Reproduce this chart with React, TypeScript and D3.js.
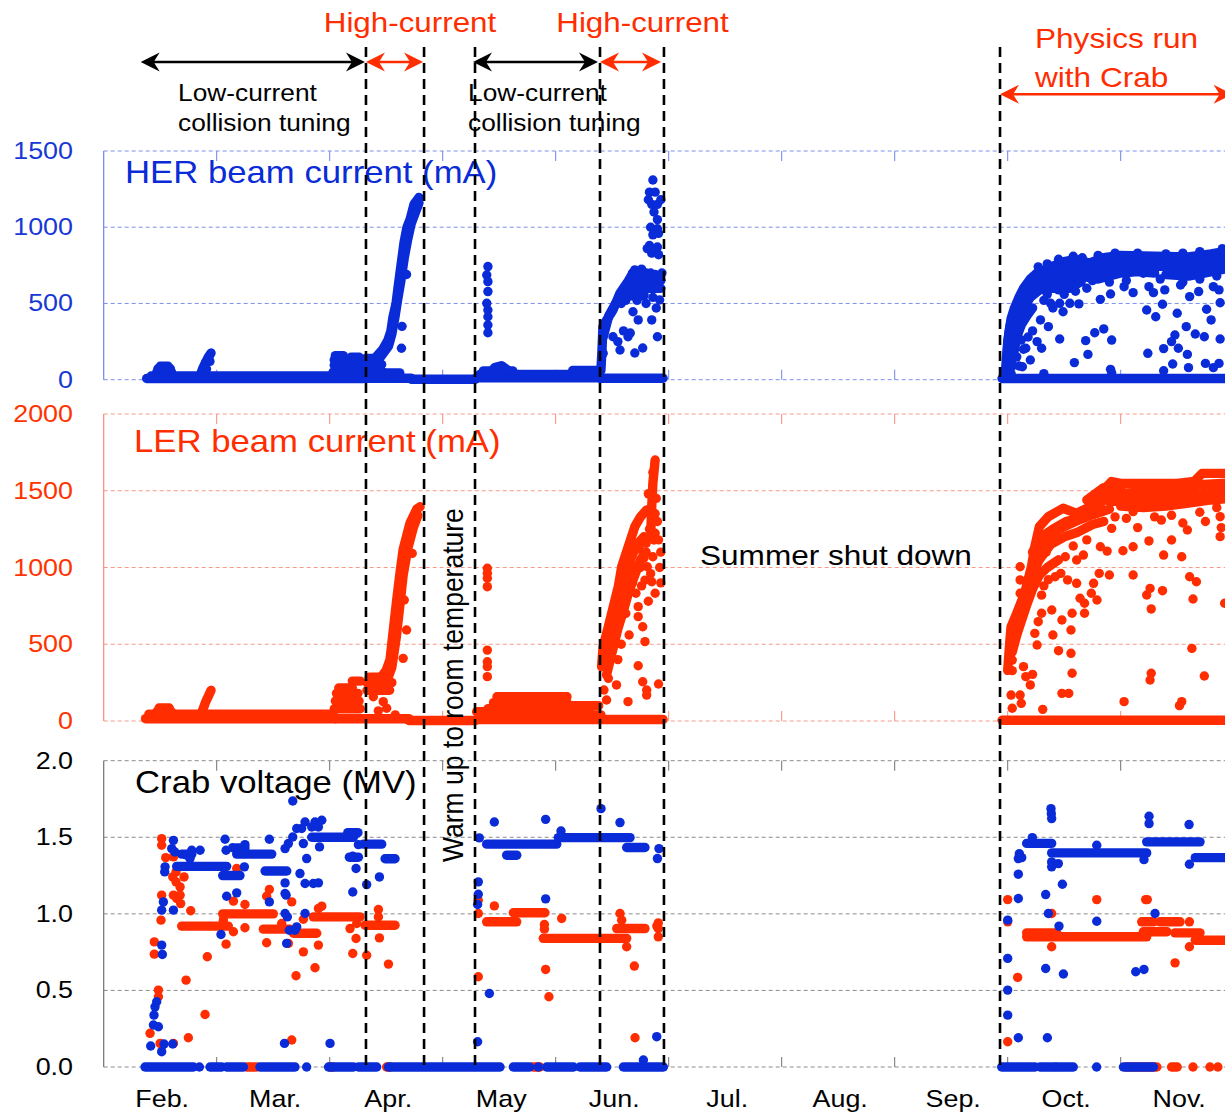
import React from "react";
import * as d3 from "d3";

type P = [number, number];
type Run = [number, number, number];

// x values are in months: 0 = start of Feb., 1 = start of Mar., ...
const monthLabels = ["Feb.", "Mar.", "Apr.", "May", "Jun.", "Jul.", "Aug.", "Sep.", "Oct.", "Nov."];
const herTicks = [0, 500, 1000, 1500];
const lerTicks = [0, 500, 1000, 1500, 2000];
const crabTicks = [0, 0.5, 1.0, 1.5, 2.0];
const phaseLines = [2.321, 2.835, 3.286, 4.392, 4.958, 7.932];

// ---------- HER beam current (mA) ----------
const herRuns: Run[] = [
  [0.38, 2.30, 8], [0.42, 2.27, 24], [0.47, 0.60, 50], [0.48, 0.59, 72], [0.50, 0.57, 88],
  [2.03, 2.29, 50], [2.04, 2.28, 95], [2.04, 2.27, 130], [2.05, 2.12, 158], [2.19, 2.26, 148],
  [2.30, 2.72, 10], [2.32, 2.62, 45], [2.32, 2.46, 100], [2.32, 2.44, 140],
  [2.72, 3.29, 3], [3.30, 4.38, 12], [3.33, 4.36, 35], [3.36, 3.62, 58], [4.15, 4.38, 60],
  [4.39, 4.95, 10], [4.68, 4.80, 700], [4.66, 4.93, 650], [4.64, 4.93, 600], [4.62, 4.78, 550],
  [7.95, 9.95, 8],
];
const herStreaks: P[][] = [
  [[0.85, 20], [0.88, 80], [0.92, 140], [0.95, 175]],
  [[2.40, 140], [2.47, 200], [2.516, 260], [2.542, 320], [2.56, 411], [2.587, 500], [2.604, 600], [2.622, 700], [2.64, 800], [2.658, 900], [2.684, 1000], [2.711, 1050], [2.746, 1150], [2.79, 1195]],
  [[2.45, 150], [2.52, 220], [2.55, 300], [2.575, 400], [2.60, 520], [2.63, 650], [2.66, 800], [2.69, 920], [2.72, 1020], [2.76, 1100], [2.79, 1160]],
  [[3.42, 40], [3.46, 80], [3.52, 92], [3.58, 60]],
  [[4.40, 60], [4.41, 200], [4.418, 348], [4.452, 392], [4.507, 457], [4.569, 568], [4.631, 634], [4.684, 700]],
  [[4.42, 280], [4.47, 420], [4.53, 500], [4.60, 560], [4.66, 600], [4.75, 640]],
  [[7.99, 100], [8.00, 250], [8.02, 350], [8.05, 430], [8.10, 500], [8.15, 560], [8.20, 620], [8.25, 690], [8.30, 710]],
  [[7.98, 50], [7.99, 150], [8.01, 300], [8.03, 400], [8.06, 470], [8.10, 540], [8.14, 600], [8.20, 660], [8.26, 700]],
  [[8.02, 200], [8.06, 300], [8.10, 400], [8.15, 480], [8.20, 540], [8.30, 600], [8.40, 640], [8.50, 650]],
  [[8.04, 130], [8.06, 200], [8.08, 280], [8.12, 360], [8.17, 420], [8.22, 470]],
  [[8.30, 710], [8.40, 745], [8.50, 775], [8.60, 790], [8.72, 765], [8.85, 800], [9.00, 815], [9.30, 810], [9.60, 805], [9.80, 825], [9.95, 845]],
  [[8.25, 660], [8.35, 700], [8.45, 730], [8.60, 755], [8.80, 750], [9.00, 780], [9.30, 780], [9.60, 775], [9.95, 805]],
  [[8.22, 620], [8.32, 660], [8.45, 690], [8.60, 715], [8.80, 700], [9.00, 740], [9.30, 745], [9.60, 735], [9.95, 770]],
  [[8.35, 620], [8.50, 650], [8.65, 680], [8.80, 660], [9.00, 700], [9.15, 710], [9.30, 700]],
  [[9.40, 690], [9.60, 680], [9.75, 700], [9.95, 730]],
  [[8.15, 560], [8.25, 590], [8.40, 600], [8.55, 600]],
];
const herPoints: P[] = [
  [0.88, 60], [0.90, 110], [0.93, 150], [0.94, 120], [0.91, 70],
  [2.635, 206], [2.68, 690], [2.64, 350], [2.44, 60], [2.47, 50], [2.52, 40], [2.57, 30], [2.62, 20],
  [3.40, 742], [3.39, 687], [3.40, 643], [3.40, 578], [3.39, 501], [3.40, 457], [3.40, 413], [3.40, 359], [3.40, 308],
  [4.86, 1310], [4.83, 1230], [4.88, 1230], [4.82, 1180], [4.93, 1180], [4.85, 1150], [4.90, 1150], [4.87, 1100],
  [4.90, 1050], [4.84, 1000], [4.90, 990], [4.86, 950], [4.91, 960], [4.83, 880], [4.90, 870], [4.85, 830], [4.91, 820], [4.81, 860],
  [4.684, 446], [4.73, 392], [4.66, 306], [4.64, 282], [4.507, 282], [4.569, 195], [4.70, 175], [4.77, 208], [4.85, 392],
  [4.90, 282], [4.89, 470], [4.92, 523], [4.42, 173], [4.55, 250], [4.60, 320], [4.93, 654], [4.80, 500], [4.78, 560],
  [4.70, 720], [4.76, 725], [4.84, 700], [4.88, 690], [4.94, 700], [4.72, 520], [4.86, 540], [4.58, 500], [4.62, 520],
  [8.36, 348], [8.46, 267], [8.69, 256], [8.77, 308], [8.85, 333], [8.92, 260], [8.71, 166], [8.59, 112], [8.91, 68],
  [9.24, 173], [9.38, 204], [9.45, 250], [9.48, 293], [9.51, 206], [9.58, 348], [9.59, 166], [9.66, 300], [9.74, 282],
  [9.88, 267], [9.46, 103], [9.38, 59], [9.60, 79], [9.75, 107], [9.82, 79], [9.87, 107], [9.23, 457], [9.31, 413],
  [9.37, 495], [9.50, 436], [9.76, 462], [9.80, 392], [9.88, 505], [8.82, 527], [8.91, 562], [9.11, 571], [9.03, 610],
  [8.63, 497], [8.55, 501], [8.46, 501], [8.38, 501], [8.45, 589], [8.49, 446], [8.29, 392], [8.30, 206], [8.26, 250],
  [8.20, 129], [8.13, 85], [8.16, 206], [8.05, 173], [9.25, 610], [9.29, 571], [9.39, 589], [9.53, 621], [9.61, 545],
  [9.69, 578], [9.82, 610], [9.87, 589], [9.20, 698], [8.03, 40], [8.32, 40], [8.92, 45],
  [8.00, 150], [8.02, 120], [8.04, 90], [8.06, 230], [8.08, 150], [8.10, 330], [8.12, 260], [8.14, 200], [8.18, 280],
  [8.22, 320], [8.10, 90], [8.32, 520], [8.35, 560], [8.40, 470], [8.42, 600], [8.50, 560], [8.55, 620], [8.60, 580],
  [8.65, 640], [8.70, 600], [8.75, 650],
  [8.27, 740], [8.35, 760], [8.45, 790], [8.58, 810], [8.66, 800], [8.80, 815], [8.95, 830], [9.15, 830], [9.40, 825],
  [9.55, 830], [9.70, 840], [9.90, 860], [8.62, 630], [8.90, 640], [9.05, 650], [9.35, 660], [9.55, 640], [9.70, 660], [9.85, 680],
];

// ---------- LER beam current (mA) ----------
const lerRuns: Run[] = [
  [0.37, 2.05, 15], [0.40, 2.03, 45], [0.47, 0.60, 60], [0.49, 0.58, 85],
  [2.04, 2.27, 80], [2.05, 2.26, 130], [2.06, 2.25, 180], [2.08, 2.20, 215], [2.20, 2.27, 260],
  [2.05, 2.70, 15], [2.70, 3.29, 3], [2.33, 2.53, 200], [2.33, 2.55, 250], [2.35, 2.50, 285],
  [3.30, 4.40, 10], [3.33, 4.40, 40], [3.40, 4.30, 80], [3.45, 4.10, 120], [3.48, 4.10, 158],
  [4.10, 4.38, 100], [3.30, 3.42, 60], [4.40, 4.95, 10], [7.95, 9.95, 5],
];
const lerStreaks: P[][] = [
  [[0.86, 40], [0.90, 120], [0.95, 200]],
  [[2.45, 280], [2.50, 330], [2.534, 400], [2.56, 573], [2.593, 788], [2.622, 963], [2.649, 1114], [2.711, 1290], [2.77, 1380], [2.80, 1396]],
  [[2.50, 250], [2.55, 350], [2.59, 550], [2.62, 750], [2.65, 950], [2.69, 1120], [2.74, 1260], [2.78, 1340]],
  [[4.406, 354], [4.42, 484], [4.466, 614], [4.51, 745], [4.554, 875], [4.584, 1005], [4.642, 1135], [4.70, 1266], [4.75, 1330], [4.805, 1375]],
  [[4.43, 400], [4.48, 560], [4.53, 700], [4.57, 830], [4.62, 950], [4.66, 1050], [4.72, 1150], [4.78, 1200]],
  [[4.45, 300], [4.50, 450], [4.55, 600], [4.60, 720], [4.65, 850], [4.70, 950], [4.75, 1050], [4.80, 1100]],
  [[4.84, 1200], [4.85, 1400], [4.86, 1550], [4.88, 1700]],
  [[8.00, 330], [8.02, 528], [8.03, 614], [8.08, 702], [8.15, 832], [8.21, 1005], [8.24, 1135], [8.28, 1266], [8.36, 1331], [8.49, 1386], [8.61, 1353], [8.73, 1396], [8.82, 1483], [8.92, 1560], [9.00, 1548], [9.50, 1548], [9.65, 1560], [9.72, 1613], [9.95, 1613]],
  [[8.02, 420], [8.06, 600], [8.12, 750], [8.18, 900], [8.25, 1000], [8.33, 1150], [8.45, 1250], [8.60, 1300], [8.70, 1330], [8.80, 1400], [8.90, 1480], [9.20, 1490], [9.50, 1500], [9.70, 1540], [9.95, 1550]],
  [[8.04, 450], [8.08, 560], [8.12, 650], [8.17, 760], [8.22, 860], [8.28, 950], [8.35, 1000], [8.45, 1050]],
  [[8.22, 1100], [8.30, 1200], [8.40, 1250], [8.52, 1300], [8.65, 1320], [8.78, 1350], [8.90, 1380]],
  [[8.90, 1430], [9.20, 1440], [9.50, 1450], [9.70, 1480], [9.95, 1500]],
  [[9.00, 1400], [9.20, 1390], [9.40, 1400], [9.60, 1420], [9.80, 1440], [9.95, 1450]],
  [[8.70, 1440], [8.85, 1520], [9.00, 1510]],
  [[8.28, 1050], [8.38, 1150], [8.50, 1200], [8.62, 1230], [8.75, 1280], [8.85, 1300]],
];
const lerPoints: P[] = [
  [2.65, 408], [2.68, 593], [2.73, 1092], [2.66, 788], [2.474, 126], [2.504, 83], [2.386, 158], [2.43, 66], [2.58, 40],
  [3.395, 995], [3.395, 962], [3.395, 930], [3.395, 875], [3.395, 462], [3.395, 386], [3.395, 354], [3.395, 289], [3.38, 60],
  [4.87, 1179], [4.88, 1223], [4.86, 1070], [4.81, 1005], [4.85, 907], [4.88, 832], [4.71, 832], [4.79, 918], [4.73, 745],
  [4.73, 680], [4.77, 614], [4.65, 560], [4.79, 517], [4.73, 360], [4.77, 256], [4.805, 202], [4.91, 241], [4.805, 169],
  [4.64, 126], [4.538, 235], [4.466, 278], [4.427, 202], [4.45, 137], [4.80, 1157], [4.70, 1005], [4.93, 1100], [4.93, 900],
  [4.90, 1300], [4.89, 1450], [4.82, 1480], [4.86, 1620], [4.75, 1000], [4.68, 900], [4.62, 700], [4.58, 500], [4.55, 400],
  [4.74, 1120], [4.78, 1060], [4.83, 1250], [4.88, 1350], [4.91, 1180], [4.92, 1000], [4.84, 960], [4.76, 880], [4.82, 780],
  [8.11, 1005], [8.11, 919], [8.11, 832], [8.04, 593], [8.04, 528], [8.04, 397], [8.04, 328], [8.14, 354], [8.16, 289],
  [8.20, 235], [8.22, 304], [8.12, 115], [8.03, 169], [8.26, 495], [8.24, 571], [8.30, 702], [8.27, 647], [8.39, 723],
  [8.40, 560], [8.45, 458], [8.48, 658], [8.56, 593], [8.56, 441], [8.57, 311], [8.54, 180], [8.48, 180], [8.57, 702],
  [8.68, 702], [8.68, 767], [8.64, 800], [8.76, 897], [8.79, 788], [8.74, 832], [8.81, 962], [8.90, 951], [8.88, 1107],
  [9.02, 1109], [9.11, 1135], [9.11, 951], [9.25, 1173], [9.23, 821], [9.26, 864], [9.27, 730], [9.37, 849], [9.38, 1081],
  [9.45, 1179], [9.54, 1070], [9.61, 940], [9.67, 907], [9.64, 795], [9.63, 473], [9.74, 293], [9.92, 767], [9.27, 311],
  [9.26, 267], [9.03, 126], [9.54, 126], [9.88, 1201], [9.88, 1331], [9.89, 1260], [9.59, 1244], [9.36, 1309], [9.11, 1364],
  [8.92, 1255], [8.82, 1135], [8.67, 1081], [8.61, 1049], [8.51, 1070], [8.47, 962], [8.53, 919], [8.42, 940], [8.61, 897],
  [8.04, 83], [8.11, 169], [8.31, 76], [9.52, 100],
  [8.32, 880], [8.36, 920], [8.30, 820], [8.34, 1100], [8.42, 1180], [8.58, 1140], [8.70, 1180], [8.95, 1330], [9.05, 1320],
  [9.30, 1330], [9.45, 1340], [9.70, 1360], [9.85, 1390], [9.15, 1260], [9.75, 1300], [9.55, 1290],
];

// ---------- Crab voltage (MV) ----------
const herCrabRuns: Run[] = [
  [0.366, 0.794, 0], [0.941, 1.044, 0], [1.088, 1.236, 0], [1.383, 1.693, 0], [1.99, 2.21, 0], [2.254, 2.416, 0],
  [2.52, 3.507, 0], [3.625, 3.77, 0], [3.92, 4.157, 0], [4.215, 4.451, 0], [4.599, 4.953, 0],
  [7.947, 8.242, 0], [8.286, 8.419, 0], [8.434, 8.58, 0], [9.024, 9.29, 0],
  [0.646, 1.088, 1.31], [0.69, 0.78, 1.39], [1.053, 1.206, 1.25], [1.177, 1.487, 1.39], [1.177, 1.25, 1.43],
  [1.428, 1.62, 1.28], [1.841, 2.21, 1.50], [2.16, 2.25, 1.53], [2.174, 2.254, 1.37], [2.298, 2.46, 1.455],
  [2.49, 2.578, 1.36], [3.389, 4.009, 1.455], [3.566, 3.655, 1.383], [4.023, 4.658, 1.498], [4.628, 4.79, 1.433],
  [8.168, 8.389, 1.46], [8.389, 9.23, 1.398], [9.23, 9.702, 1.47], [9.66, 9.95, 1.367],
];
const herCrabPoints: P[] = [
  [0.847, 0], [1.796, 0], [3.846, 0], [8.787, 0],
  [0.416, 0.137], [0.44, 0.274], [0.445, 0.339], [0.454, 0.393], [0.469, 0.426], [0.484, 0.263], [0.513, 0.10], [0.534, 0.15],
  [0.611, 0.15], [0.513, 0.796], [0.519, 0.735], [0.513, 1.024], [0.528, 1.078], [0.617, 1.024], [0.543, 1.307], [0.54, 1.274],
  [0.617, 1.48], [0.602, 1.426], [0.63, 1.404], [0.735, 1.383], [0.779, 1.415], [0.853, 1.415], [0.764, 1.361], [1.074, 1.487],
  [1.083, 1.415], [1.142, 1.432], [1.25, 1.452], [1.245, 1.307], [1.177, 1.137], [1.088, 1.115], [1.038, 0.865], [1.466, 1.487],
  [1.466, 1.078], [1.605, 1.202], [1.605, 1.133], [1.614, 1.122], [1.605, 1.002], [1.625, 0.98], [1.619, 0.807], [1.643, 0.893],
  [1.693, 0.893], [1.708, 0.915], [1.782, 1.002], [1.60, 0.154], [2.003, 0.154], [1.605, 1.426], [1.634, 1.459], [1.673, 1.502],
  [1.673, 1.737], [1.708, 1.557], [1.752, 1.557], [1.782, 1.60], [1.841, 1.567], [1.87, 1.60], [1.90, 1.567], [1.93, 1.611],
  [1.91, 1.437], [1.737, 1.263], [1.782, 1.198], [1.796, 1.361], [1.767, 1.459], [1.855, 1.198], [1.90, 1.202], [2.204, 1.376],
  [2.233, 1.296], [2.204, 1.143], [2.254, 1.452], [2.327, 1.191], [2.44, 1.241],
  [3.324, 1.496], [3.315, 1.209], [3.315, 1.128], [3.309, 1.061], [3.309, 0.165], [3.413, 0.48], [3.457, 1.60], [3.911, 1.617],
  [3.911, 1.098], [4.401, 1.687], [4.569, 1.596], [4.047, 1.541], [4.894, 0.198], [4.776, 0.046], [4.90, 1.361], [4.914, 1.426],
  [8.0, 0.959], [8.0, 0.709], [8.0, 0.502], [8.0, 0.339], [8.094, 0.191], [8.094, 1.10], [8.094, 1.259], [8.094, 1.361],
  [8.103, 1.393], [8.124, 1.367], [8.218, 1.498], [8.336, 1.126], [8.36, 1.002], [8.351, 0.191], [8.336, 0.643], [8.383, 1.687],
  [8.389, 1.622], [8.386, 1.654], [8.389, 1.339], [8.389, 1.307], [8.448, 1.328], [8.484, 1.193], [8.454, 0.92], [8.493, 0.607],
  [8.788, 1.448], [8.788, 0.952], [9.133, 0.622], [9.206, 0.637], [9.206, 1.354], [9.251, 1.637], [9.251, 1.589], [9.304, 1.002],
  [9.605, 1.583], [9.608, 1.324],
];
const lerCrabRuns: Run[] = [
  [1.265, 1.354, 0], [2.0, 2.03, 0], [2.504, 2.534, 0], [3.80, 3.86, 0], [9.05, 9.32, 0], [9.45, 9.50, 0],
  [0.69, 1.103, 0.92], [1.053, 1.501, 1.0], [1.413, 1.649, 0.90], [1.679, 1.885, 0.873], [1.855, 2.268, 0.98],
  [2.313, 2.578, 0.926], [3.389, 3.655, 0.948], [3.625, 3.905, 1.007], [3.89, 4.628, 0.84], [4.54, 4.79, 0.904],
  [8.168, 9.23, 0.85], [8.168, 8.434, 0.876], [9.186, 9.29, 0.948], [9.348, 9.525, 0.948], [9.20, 9.41, 0.883],
  [9.48, 9.702, 0.876], [9.66, 9.95, 0.828],
];
const lerCrabPoints: P[] = [
  [9.64, 0], [9.79, 0], [9.86, 0],
  [0.41, 0.22], [0.499, 0.154], [0.519, 0.143], [0.617, 0.154], [0.749, 0.191], [0.897, 0.343], [0.729, 0.567], [0.917, 0.72],
  [0.484, 0.502], [0.484, 0.459], [0.448, 0.817], [0.448, 0.737], [0.507, 0.959], [0.513, 1.122], [0.513, 1.491], [0.513, 1.448],
  [0.549, 1.367], [0.617, 1.372], [0.611, 1.241], [0.64, 1.274], [0.64, 1.209], [0.676, 1.176], [0.711, 1.241], [0.617, 1.122],
  [0.646, 1.10], [0.681, 1.067], [0.676, 1.122], [0.77, 1.02], [1.148, 1.083], [1.25, 1.061], [1.059, 0.959], [1.148, 0.883],
  [1.083, 0.802], [1.25, 0.909], [1.177, 1.296], [1.442, 0.811], [1.442, 1.115], [1.466, 1.159], [1.575, 0.937], [1.664, 1.078],
  [1.634, 0.807], [1.702, 0.596], [1.767, 0.752], [1.87, 0.648], [1.90, 0.796], [1.664, 0.176], [1.767, 0.965], [1.93, 1.05],
  [1.90, 1.035], [2.18, 0.904], [2.239, 0.937], [2.233, 0.839], [2.204, 0.741], [2.327, 0.73], [2.431, 1.028], [2.431, 0.98],
  [2.44, 0.843], [2.52, 0.672],
  [3.315, 1.089], [3.315, 1.002], [3.315, 0.589], [3.457, 1.052], [4.053, 0.97], [3.90, 0.93], [3.90, 0.90], [4.569, 1.002],
  [4.584, 0.959], [4.628, 0.785], [4.696, 0.659], [4.702, 0.191], [3.911, 0.637], [3.94, 0.459], [4.908, 0.941], [4.908, 0.904],
  [4.908, 0.85], [4.895, 0.92],
  [8.0, 1.093], [8.0, 0.948], [8.0, 0.165], [8.088, 0.585], [8.389, 1.002], [8.389, 0.785], [8.788, 1.093], [9.221, 1.093],
  [9.235, 1.093], [9.481, 0.68], [9.608, 0.948], [9.608, 0.785],
];

// annotation arrows (months)
const blackArrows: [number, number][] = [[0.327, 2.312], [3.268, 4.374]];
const redArrows: [number, number][] = [[2.321, 2.826], [4.392, 4.932]];
const physicsArrow: [number, number] = [7.932, 9.99];

const BLUE = "#0a2bd8";
const RED = "#ff2d00";
const FONT = "'Liberation Sans', Arial, Helvetica, sans-serif";
const SX = 1.12;
const R = 4.7;

function T(props: { x: number; y: number; size: number; fill?: string; anchor?: string; rotate?: number; children: React.ReactNode }) {
  const { x, y, size, fill = "#000", anchor = "start", rotate, children } = props;
  const tr = `translate(${x},${y}) scale(${SX},1)` + (rotate ? ` rotate(${rotate})` : "");
  return (
    <text transform={tr} fontSize={size} fill={fill} textAnchor={anchor as any} fontFamily={FONT}>
      {children}
    </text>
  );
}

function Series(props: { runs: Run[]; streaks: P[][]; points: P[]; x: d3.ScaleLinear<number, number>; y: d3.ScaleLinear<number, number>; color: string }) {
  const { runs, streaks, points, x, y, color } = props;
  const ln = d3.line<P>().x((d) => x(d[0])).y((d) => y(d[1]));
  return (
    <g>
      {runs.map((r, i) => (
        <line key={"r" + i} x1={x(r[0])} x2={x(r[1])} y1={y(r[2])} y2={y(r[2])} stroke={color} strokeWidth={R * 2} strokeLinecap="round" />
      ))}
      {streaks.map((s, i) => (
        <path key={"s" + i} d={ln(s) || ""} fill="none" stroke={color} strokeWidth={R * 2} strokeLinecap="round" strokeLinejoin="round" />
      ))}
      {points.map((p, i) => (
        <circle key={"p" + i} cx={x(p[0])} cy={y(p[1])} r={R} fill={color} />
      ))}
    </g>
  );
}

function ArrowHead({ x, y, dir, color }: { x: number; y: number; dir: number; color: string }) {
  const d = `M${x},${y} L${x - dir * 19},${y - 9.5} L${x - dir * 13},${y} L${x - dir * 19},${y + 9.5} Z`;
  return <path d={d} fill={color} />;
}

function DoubleArrow({ x1, x2, y, color }: { x1: number; x2: number; y: number; color: string }) {
  return (
    <g>
      <line x1={x1 + 6} x2={x2 - 6} y1={y} y2={y} stroke={color} strokeWidth={2.6} />
      <ArrowHead x={x1} y={y} dir={-1} color={color} />
      <ArrowHead x={x2} y={y} dir={1} color={color} />
    </g>
  );
}

export default function App() {
  const W = 1225, H = 1115;
  const x = d3.scaleLinear().domain([0, 10]).range([103.7, 1233.7]);
  const herY = d3.scaleLinear().domain([0, 1500]).range([379.7, 151]);
  const lerY = d3.scaleLinear().domain([0, 2000]).range([721, 414]);
  const crabY = d3.scaleLinear().domain([0, 2]).range([1067, 760.7]);
  const fmtInt = d3.format("d");
  const fmt1 = d3.format(".1f");
  const monthTicks = d3.range(1, 10);

  const panels = [
    { y: herY, ticks: herTicks, fmt: fmtInt, axis: "#6f84e8", grid: "#7e90ea", label: "#1838d6" },
    { y: lerY, ticks: lerTicks, fmt: fmtInt, axis: "#f58b78", grid: "#f79a88", label: "#ff3300" },
    { y: crabY, ticks: crabTicks, fmt: fmt1, axis: "#707070", grid: "#8c8c8c", label: "#000" },
  ];

  return (
    <svg width={W} height={H} style={{ position: "absolute", left: 0, top: 0, background: "#fff" }}>
      <rect x={0} y={0} width={W} height={H} fill="#fff" />
      {panels.map((p, pi) => {
        const [d0, d1] = p.y.domain();
        const yTop = p.y(d1), yBot = p.y(d0);
        return (
          <g key={pi}>
            {p.ticks.map((t) => (
              <line key={t} x1={x(0)} x2={W} y1={p.y(t)} y2={p.y(t)} stroke={p.grid} strokeWidth={1} strokeDasharray="4,3" />
            ))}
            <line x1={x(0)} x2={x(0)} y1={yTop} y2={yBot} stroke={p.axis} strokeWidth={1.2} />
            {monthTicks.map((m) => (
              <g key={m}>
                <line x1={x(m)} x2={x(m)} y1={yTop} y2={yTop + 10} stroke={p.axis} strokeWidth={1} />
                <line x1={x(m)} x2={x(m)} y1={yBot} y2={yBot - 10} stroke={p.axis} strokeWidth={1} />
              </g>
            ))}
            {p.ticks.map((t) => (
              <T key={"l" + t} x={73} y={p.y(t) + 8} size={24} fill={p.label} anchor="end">
                {p.fmt(t)}
              </T>
            ))}
          </g>
        );
      })}

      {monthLabels.map((mLab, i) => (
        <T key={mLab} x={x(i + 0.5) + 2} y={1107} size={24} anchor="middle">
          {mLab}
        </T>
      ))}

      <Series runs={herRuns} streaks={herStreaks} points={herPoints} x={x} y={herY} color={BLUE} />
      <Series runs={lerRuns} streaks={lerStreaks} points={lerPoints} x={x} y={lerY} color={RED} />
      <Series runs={lerCrabRuns} streaks={[]} points={lerCrabPoints} x={x} y={crabY} color={RED} />
      <Series runs={herCrabRuns} streaks={[]} points={herCrabPoints} x={x} y={crabY} color={BLUE} />

      <T x={125} y={183.3} size={31} fill={BLUE}>HER beam current (mA)</T>
      <T x={134} y={451.7} size={31} fill={RED}>LER beam current (mA)</T>
      <T x={135} y={792.7} size={31}>Crab voltage (MV)</T>
      <T x={700} y={565} size={28.2}>Summer shut down</T>
      <T x={463} y={862} size={26.5} rotate={-90}>Warm up to room temperature</T>

      <T x={410} y={32} size={28} fill={RED} anchor="middle">High-current</T>
      <T x={642.5} y={32} size={28} fill={RED} anchor="middle">High-current</T>
      <T x={178} y={100.5} size={23.5}>Low-current</T>
      <T x={178} y={131} size={23.5}>collision tuning</T>
      <T x={468} y={100.5} size={23.5}>Low-current</T>
      <T x={468} y={131} size={23.5}>collision tuning</T>
      <T x={1035} y={48} size={28.2} fill={RED}>Physics run</T>
      <T x={1035} y={87} size={28.2} fill={RED}>with Crab</T>

      {blackArrows.map((a, i) => (
        <DoubleArrow key={"b" + i} x1={x(a[0])} x2={x(a[1])} y={62} color="#000" />
      ))}
      {redArrows.map((a, i) => (
        <DoubleArrow key={"rd" + i} x1={x(a[0])} x2={x(a[1])} y={62} color={RED} />
      ))}
      <DoubleArrow x1={x(physicsArrow[0])} x2={x(physicsArrow[1])} y={94.3} color={RED} />

      {phaseLines.map((m, i) => (
        <line key={"v" + i} x1={x(m)} x2={x(m)} y1={47} y2={1070} stroke="#000" strokeWidth={2.6} strokeDasharray="10,6" />
      ))}
    </svg>
  );
}
